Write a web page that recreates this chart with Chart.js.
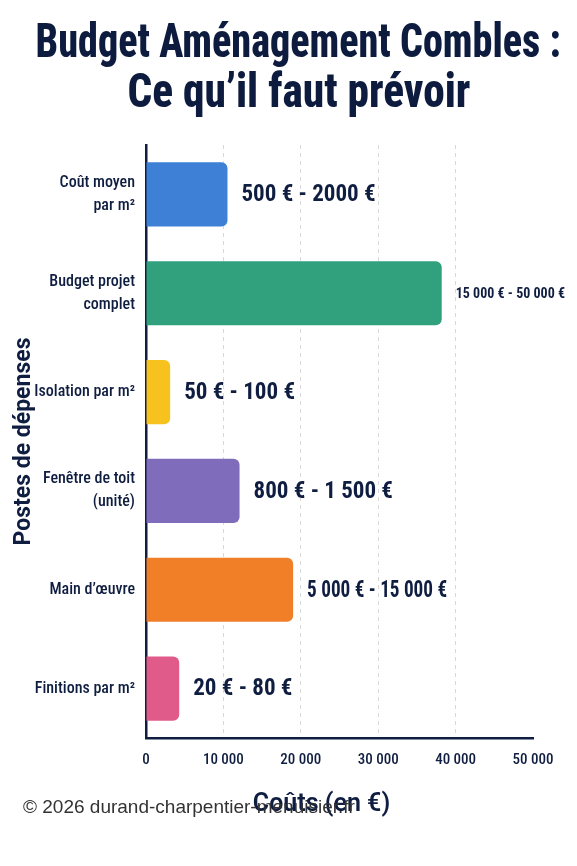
<!DOCTYPE html>
<html>
<head>
<meta charset="utf-8">
<script src="https://cdn.jsdelivr.net/npm/chart.js@4.4.1/dist/chart.umd.min.js"></script>
<style>
  html, body { margin: 0; padding: 0; background: #fff; }
  #wrap { position: relative; width: 577px; height: 866px; overflow: hidden; }
  canvas { position: absolute; left: 0; top: 0; }
  #title {
    position: absolute; left: 10px; top: 16px; width: 577px;
    font-family: Roboto, sans-serif; font-weight: 800; font-stretch: 75%;
    font-size: 48px; line-height: 50px; color: #0d1b3e; white-space: nowrap;
  }
  #title div { display: flex; justify-content: center; }
  #title span { display: inline-block; transform-origin: 50% 50%; }
</style>
</head>
<body>
<div id="wrap">
  <canvas id="chart" width="577" height="866"></canvas>
  <div id="title">
    <div><span data-w="525">Budget Aménagement Combles :</span></div>
    <div><span data-w="343">Ce qu’il faut prévoir</span></div>
  </div>
</div>
<script>
// postes de dépenses (axe vertical)
const categories = [
    ['Coût moyen', 'par m²'],
    ['Budget projet', 'complet'],
    'Isolation par m²',
    ['Fenêtre de toit', '(unité)'],
    'Main d’œuvre',
    'Finitions par m²'
];
const costValues = [10800, 39200, 3200, 12400, 19500, 4400];
const costLabels = [
    '500 € - 2000 €',
    '15 000 € - 50 000 €',
    '50 € - 100 €',
    '800 € - 1 500 €',
    '5 000 € - 15 000 €',
    '20 € - 80 €'
];
const barColors = ['#3d80d6', '#31a17d', '#f7c21e', '#7f6cba', '#f07f27', '#e05b89'];
const xTickLabels = ['0', '10 000', '20 000', '30 000', '40 000', '50 000'];

const NAVY = '#0f1d40';
const COND = 'Roboto, sans-serif';

// titre resserré à la largeur de l'original
document.querySelectorAll('#title span').forEach(s => {
    const k = Math.min(1, +s.dataset.w / s.offsetWidth);
    s.style.transform = 'scaleX(' + k + ')';
});

// texte à droite de chaque barre : plus petit si pas de place, resserré si trop long
const barValueLabels = {
    id: 'barValueLabels',
    afterDatasetsDraw(chart) {
        const ctx = chart.ctx;
        const meta = chart.getDatasetMeta(0);
        meta.data.forEach((bar, i) => {
            const x = bar.x + 14;
            const room = chart.width - x - 11;
            let size = 23;
            ctx.font = 'condensed bold ' + size + 'px ' + COND;
            let w = ctx.measureText(costLabels[i]).width;
            if (w > room) {
                size = Math.floor(size * room / w);
                ctx.font = 'condensed bold ' + size + 'px ' + COND;
                w = ctx.measureText(costLabels[i]).width;
            }
            const sx = Math.min(1, 140 / w);
            ctx.save();
            ctx.fillStyle = NAVY;
            ctx.textAlign = 'left';
            ctx.textBaseline = 'middle';
            ctx.translate(x, bar.y + 1);
            ctx.scale(sx, 1);
            ctx.fillText(costLabels[i], 0, 0);
            ctx.restore();
        });
    }
};

// titre de l'axe X + mention copyright
const footerText = {
    id: 'footerText',
    afterDraw(chart) {
        const { ctx, chartArea } = chart;
        ctx.save();
        ctx.textBaseline = 'middle';
        ctx.textAlign = 'center';
        ctx.font = '600 25px Roboto, sans-serif';
        ctx.fillStyle = NAVY;
        ctx.fillText('Coûts (en €)', (chartArea.left + chartArea.right) / 2 - 18, 805);
        ctx.textAlign = 'left';
        ctx.font = '19px "Liberation Sans", sans-serif';
        ctx.fillStyle = '#333';
        ctx.fillText('© 2026 durand-charpentier-menuisier.fr', 23, 808);
        ctx.restore();
    }
};

new Chart(document.getElementById('chart'), {
    type: 'bar',
    data: {
        labels: categories,
        datasets: [{
            data: costValues,
            backgroundColor: barColors,
            borderRadius: 6,
            borderSkipped: 'start',
            categoryPercentage: 1,
            barPercentage: 0.65
        }]
    },
    options: {
        indexAxis: 'y',
        responsive: false,
        animation: false,
        devicePixelRatio: 1,
        layout: {
            padding: { top: 145, right: 44, bottom: 0, left: 0 }
        },
        scales: {
            x: {
                min: 0,
                max: 51300,
                afterFit: s => { s.height = 128; },
                ticks: {
                    stepSize: 10000,
                    includeBounds: false,
                    maxRotation: 0,
                    padding: 13,
                    color: NAVY,
                    font: { family: COND, size: 15, weight: 'condensed 500' },
                    callback: (v, i) => xTickLabels[i]
                },
                grid: {
                    drawTicks: false,
                    lineWidth: 1,
                    color: c => (c.tick && c.tick.value > 0 && c.tick.value < 50000) ? '#d8d8d8' : 'transparent'
                },
                border: { color: NAVY, width: 2.5, dash: [4, 4] }
            },
            y: {
                afterFit: s => { s.width = 146; },
                ticks: {
                    padding: 11,
                    color: NAVY,
                    font: { family: COND, size: 16, weight: 'condensed 500', lineHeight: 1.44 }
                },
                grid: { display: false, drawTicks: false },
                border: { color: NAVY, width: 2.5 },
                title: {
                    display: true,
                    text: 'Postes de dépenses',
                    color: NAVY,
                    font: { family: 'Roboto, sans-serif', size: 23, weight: 'bold' },
                    padding: { top: 10, bottom: 0 }
                }
            }
        },
        plugins: {
            legend: { display: false },
            tooltip: { enabled: false }
        }
    },
    plugins: [barValueLabels, footerText]
});
</script>
</body>
</html>
